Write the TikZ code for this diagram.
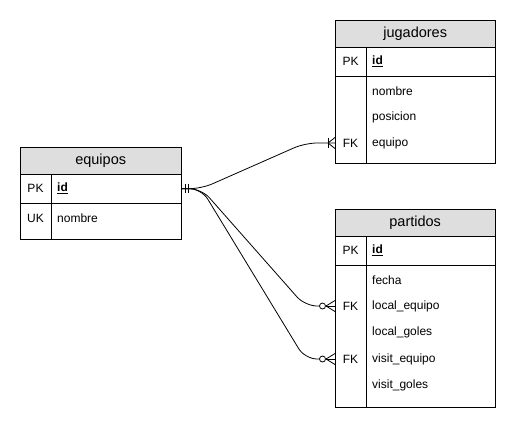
\documentclass[tikz,border=0pt]{standalone}
\usepackage{fontspec}
\setmainfont{Liberation Sans}
\definecolor{headgray}{HTML}{DEDEDE}
\begin{document}
\begin{tikzpicture}[x=1pt,y=-1pt,
  tabhead/.style={draw, fill=headgray, anchor=north west, inner sep=0pt,
    minimum width=#1, minimum height=27pt, font=\fontsize{14.5}{16}\selectfont},
  tabrow/.style={draw, fill=white, anchor=north west, inner sep=0pt,
    minimum width=#1},
  keytxt/.style={anchor=center, inner sep=0pt, font=\fontsize{12}{14}\selectfont},
  fieldtxt/.style={anchor=west, inner sep=0pt, font=\fontsize{12}{14}\selectfont},
  pkfield/.style={fieldtxt, font=\fontsize{12}{14}\selectfont\bfseries},
  rel/.style={line width=0.8pt, rounded corners=12pt},
  relmark/.style={line width=0.8pt}
]
\useasboundingbox (0,0) rectangle (516,429);

% ---------- equipos ----------
\node[tabhead=161pt] (eqh) at (20,147) {equipos};
\node[tabrow=161pt, minimum height=29pt] (eqpk) at (20,174) {};
\node[tabrow=161pt, minimum height=36pt] (eqbody) at (20,203) {};
\draw (51,174) -- (51,239);
\node[keytxt] (eqk1) at (35.5,188.5) {PK};
\node[pkfield] (eqid) at (57,188.5) {\underline{id}};
\node[keytxt] (eqk2) at (35.5,218) {UK};
\node[fieldtxt] (eqnombre) at (57,218) {nombre};

% ---------- jugadores ----------
\node[tabhead=160pt] (jgh) at (335,20) {jugadores};
\node[tabrow=160pt, minimum height=29pt] (jgpk) at (335,47) {};
\node[tabrow=160pt, minimum height=87pt] (jgbody) at (335,76) {};
\draw (366,47) -- (366,163);
\node[keytxt] (jgk1) at (350.5,61.5) {PK};
\node[pkfield] (jgid) at (372,61.5) {\underline{id}};
\node[fieldtxt] (jgnombre) at (372,91) {nombre};
\node[fieldtxt] (jgposicion) at (372,117) {posicion};
\node[keytxt] (jgk2) at (350.5,143) {FK};
\node[fieldtxt] (jgequipo) at (372,143) {equipo};

% ---------- partidos ----------
\node[tabhead=160pt] (pth) at (335,209) {partidos};
\node[tabrow=160pt, minimum height=29pt] (ptpk) at (335,236) {};
\node[tabrow=160pt, minimum height=142pt] (ptbody) at (335,265) {};
\draw (366,236) -- (366,407);
\node[keytxt] (ptk1) at (350.5,250.5) {PK};
\node[pkfield] (ptid) at (372,250.5) {\underline{id}};
\node[fieldtxt] (ptfecha) at (372,280) {fecha};
\node[keytxt] (ptk2) at (350.5,306) {FK};
\node[fieldtxt] (ptlocal) at (372,306) {local\_equipo};
\node[fieldtxt] (ptlgoles) at (372,332.5) {local\_goles};
\node[keytxt] (ptk3) at (350.5,359) {FK};
\node[fieldtxt] (ptvisit) at (372,359) {visit\_equipo};
\node[fieldtxt] (ptvgoles) at (372,385) {visit\_goles};

% ---------- relation end points ----------
\coordinate (src) at (eqpk.east);
\coordinate (jgend) at (jgbody.west |- jgequipo);
\coordinate (ptend1) at (ptbody.west |- ptlocal);
\coordinate (ptend2) at (ptbody.west |- ptvisit);

% ---------- relations ----------
\draw[rel] (src) -- ++(20,0) -- (305,143) -- (jgend);
\draw[rel] (src) -- ++(20,0) -- (305,306) -- ([xshift=-15pt]ptend1);
\draw[rel] (src) -- ++(20,0) -- (305,359) -- ([xshift=-15pt]ptend2);

% one and only one (equipos side)
\draw[relmark] ([xshift=4pt]src) ++(0,-4.5) -- ++(0,9);
\draw[relmark] ([xshift=7pt]src) ++(0,-4.5) -- ++(0,9);

% one or many (jugadores side)
\draw[relmark] ([xshift=-7pt]jgend) ++(0,-5) -- ++(0,10);
\draw[relmark] ([xshift=-7pt]jgend) -- ++(7,-5.5);
\draw[relmark] ([xshift=-7pt]jgend) -- ++(7,5.5);

% zero or many (partidos side)
\foreach \e in {ptend1, ptend2} {
  \draw[relmark, fill=white] ([xshift=-12.5pt]\e) circle (3pt);
  \draw[relmark] ([xshift=-9.5pt]\e) -- (\e);
  \draw[relmark] ([xshift=-9pt]\e) -- ++(9,-5.5);
  \draw[relmark] ([xshift=-9pt]\e) -- ++(9,5.5);
}
\end{tikzpicture}
\end{document}
